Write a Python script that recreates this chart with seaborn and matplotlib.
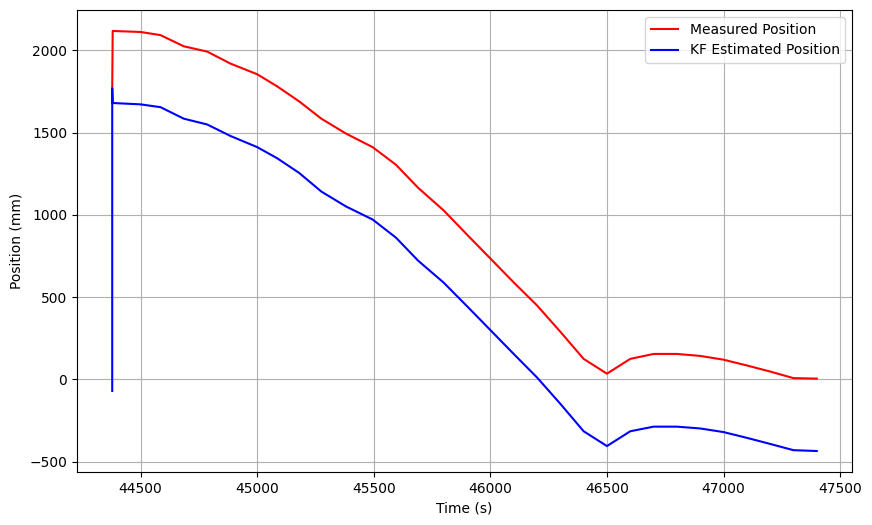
"""
Kalman filter position estimate vs measured position over time.
"""

import matplotlib
matplotlib.use("Agg")
import matplotlib.pyplot as plt
import seaborn as sns
import pandas as pd

# time stamps (s); the first few share the start time (filter init)
time_s = [44378, 44378, 44380, 44385, 44500, 44585, 44685, 44785, 44885, 45000,
          45085, 45180, 45275, 45380, 45495, 45595, 45690, 45800, 45900, 46000,
          46100, 46200, 46300, 46400, 46500, 46600, 46700, 46800, 46900, 47000,
          47100, 47200, 47300, 47400]

measured_mm = [1770, 1770, 2118, 2118, 2112, 2093, 2025, 1993, 1920, 1855,
               1782, 1690, 1585, 1495, 1412, 1305, 1165, 1027, 880, 735,
               590, 450, 290, 125, 35, 125, 155, 155, 143, 120,
               85, 48, 8, 5]

kf_estimate_mm = [-70, 1770, 1680, 1680, 1672, 1655, 1585, 1550, 1480, 1412,
                  1345, 1255, 1142, 1052, 972, 862, 722, 588, 445, 300,
                  155, 12, -148, -315, -405, -315, -287, -287, -298, -320,
                  -355, -392, -430, -435]

df = pd.DataFrame({"time": time_s, "measured": measured_mm, "kf": kf_estimate_mm})

fig = plt.figure(figsize=(8.72, 5.25), dpi=100)
ax = fig.add_axes([77 / 872, 1 - 472 / 525, 775 / 872, 462 / 525])

sns.lineplot(data=df, x="time", y="measured", color="red", label="Measured Position",
             estimator=None, sort=False, ax=ax)
sns.lineplot(data=df, x="time", y="kf", color="blue", label="KF Estimated Position",
             estimator=None, sort=False, ax=ax)

ax.set_xlabel("Time (s)")
ax.set_ylabel("Position (mm)")
ax.grid(True)
ax.legend(loc="upper right")

plt.savefig("out.png", dpi=100)
plt.close()
